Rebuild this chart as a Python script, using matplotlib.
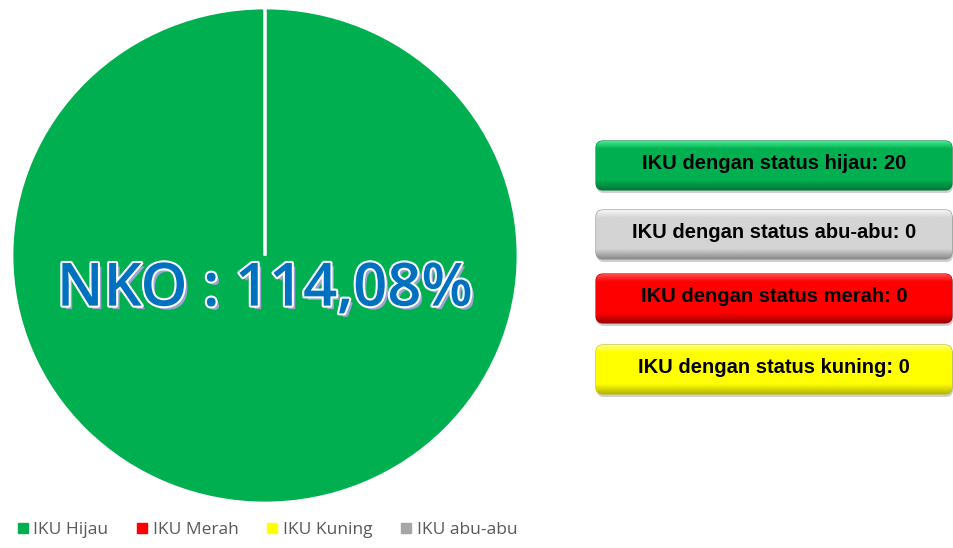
import numpy as np
import matplotlib.pyplot as plt
import matplotlib.patheffects as pe
from matplotlib.patches import FancyBboxPatch
from matplotlib.lines import Line2D
from matplotlib.colors import to_rgb

# Data
categories = ['IKU Hijau', 'IKU Merah', 'IKU Kuning', 'IKU abu-abu']
values = [20, 0, 0, 0]
colors = ['#00B050', '#FF0000', '#FFFF00', '#A6A6A6']
nko_label = 'NKO : 114,08%'

# Status boxes (order as shown on the right)
box_labels = ['hijau', 'abu-abu', 'merah', 'kuning']
box_counts = [20, 0, 0, 0]
box_colors = ['#00B050', '#D4D4D4', '#FF0000', '#FFFF00']
box_dark = ['#007A38', '#8C8C8C', '#A00000', '#B8B800']
box_light = ['#3DE98A', '#F4F4F4', '#FF4A4A', '#FFFF70']

W, H = 954, 548
fig = plt.figure(figsize=(W / 100, H / 100), dpi=100)

# Pie chart
ax = fig.add_axes([12 / W, (H - 503) / H, 506 / W, 495 / H])
ax.pie(values, colors=colors, startangle=90, counterclock=False,
       radius=1, wedgeprops=dict(edgecolor='white', linewidth=2))
ax.set_aspect('auto')
ax.set_xlim(-1, 1)
ax.set_ylim(-1, 1)
ax.axis('off')

ax.text(0, -0.14, nko_label, ha='center', va='center', fontsize=43,
        family='Open Sans', fontweight='semibold', color='#0070C0',
        path_effects=[pe.SimplePatchShadow(offset=(2.5, -2.5),
                                           shadow_rgbFace='#9BA3D0', alpha=1),
                      pe.Stroke(linewidth=3, foreground='white'),
                      pe.Normal()])

# Status boxes
bx = fig.add_axes([0, 0, 1, 1])
bx.set_xlim(0, W)
bx.set_ylim(H, 0)
bx.axis('off')


def gradient(c, lt, dk, n=50):
    c, lt, dk = np.array(to_rgb(c)), np.array(to_rgb(lt)), np.array(to_rgb(dk))
    t = np.linspace(0, 1, n)
    rows = []
    for v in t:
        if v < 0.15:
            rows.append(lt + (c - lt) * v / 0.15)
        elif v < 0.8:
            rows.append(c)
        else:
            rows.append(c + (dk - c) * (v - 0.8) / 0.2)
    return np.array(rows)[:, None, :]


box_tops = [141, 210, 274, 345]
box_h = 51
x0, x1 = 596, 952
for top, lab, cnt, c, dk, lt in zip(box_tops, box_labels, box_counts,
                                    box_colors, box_dark, box_light):
    # soft shadow
    bx.add_patch(FancyBboxPatch((x0 + 1, top + 2), x1 - x0, box_h - 1,
                                boxstyle='round,pad=0,rounding_size=7',
                                fc='#B0B0B0', ec='none', alpha=0.6))
    body = FancyBboxPatch((x0, top), x1 - x0, box_h - 2,
                          boxstyle='round,pad=0,rounding_size=7',
                          fc=c, ec=dk, lw=0.8)
    bx.add_patch(body)
    im = bx.imshow(gradient(c, lt, dk), extent=(x0, x1, top + box_h - 2, top),
                   aspect='auto', zorder=2)
    im.set_clip_path(body)
    bx.text((x0 + x1) / 2, top + box_h / 2 - 3,
            f'IKU dengan status {lab}: {cnt}', ha='center', va='center',
            fontsize=14.5, fontweight='bold', family='Liberation Sans',
            color='black', zorder=3)
bx.set_xlim(0, W)
bx.set_ylim(H, 0)

# Legend
handles = [Line2D([0], [0], marker='s', linestyle='', markersize=7,
                  markerfacecolor=c, markeredgecolor=c) for c in colors]
fig.legend(handles, categories, loc='lower left', ncol=4,
           bbox_to_anchor=(3 / W, -0.01), frameon=False,
           handlelength=0.5, handletextpad=0.35, columnspacing=1.7,
           prop={'family': 'Open Sans', 'size': 12.5}, labelcolor='#595959')

fig.savefig('out.png', dpi=100)
